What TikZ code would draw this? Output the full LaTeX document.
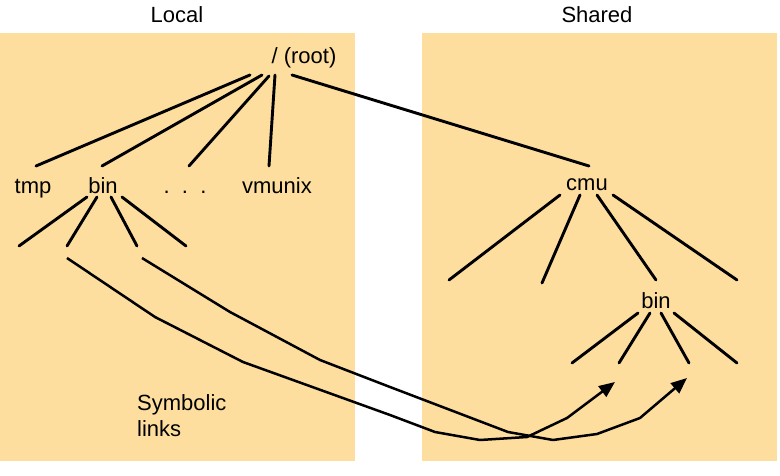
\documentclass[tikz,border=0pt]{standalone}
\usepackage{fontspec}
\setmainfont{Liberation Sans}
\usetikzlibrary{arrows.meta}
\definecolor{boxfill}{RGB}{253,222,158}
\tikzset{
  lbl/.style={anchor=base, inner sep=0pt, font=\fontsize{22}{26}\selectfont},
  tree/.style={line width=2.9pt, line cap=round},
  link/.style={line width=2.5pt, line join=round, -{Triangle[length=16pt,width=13pt]}},
  area/.style={fill=boxfill, draw=none}
}
\begin{document}
\begin{tikzpicture}[x=1pt,y=-1pt]
\useasboundingbox (0,0) rectangle (780,476);
\fill[white] (0,0) rectangle (780,476);
% areas
\path[area] (0,33) rectangle (355,461);
\path[area] (422,33) rectangle (777,461);
% titles
\node[lbl] (local) at (177,23) {Local};
\node[lbl] (shared) at (597,23) {Shared};
% nodes
\node[lbl] (root) at (304,64) {/ (root)};
\node[lbl] (tmp) at (33,194) {tmp};
\node[lbl] (lbin) at (103,194) {bin};
\node[lbl] (dots) at (185,194) {.\ \ .\ \ .};
\node[lbl] (vmunix) at (277,194) {vmunix};
\node[lbl] (cmu) at (587,191) {cmu};
\node[lbl] (sbin) at (656,308) {bin};
\node[lbl, anchor=base west] (sym) at (137,410) {Symbolic};
\node[lbl, anchor=base west] (links) at (137,436) {links};
% root edges
\coordinate (r1) at (250,75); \coordinate (t1) at (36,166);
\coordinate (r2) at (262,75); \coordinate (t2) at (102,166);
\coordinate (r3) at (269,76); \coordinate (t3) at (189,166);
\coordinate (r4) at (275,75); \coordinate (t4) at (269,166);
\coordinate (r5) at (292,75); \coordinate (t5) at (589,166);
\draw[tree] (r1) -- (t1);
\draw[tree] (r2) -- (t2);
\draw[tree] (r3) -- (t3);
\draw[tree] (r4) -- (t4);
\draw[tree] (r5) -- (t5);
% local bin children
\coordinate (lb1) at (87,197); \coordinate (lc1) at (19,246);
\coordinate (lb2) at (97,197); \coordinate (lc2) at (67,246);
\coordinate (lb3) at (111,197); \coordinate (lc3) at (137,246);
\coordinate (lb4) at (122,197); \coordinate (lc4) at (186,246);
\draw[tree] (lb1) -- (lc1);
\draw[tree] (lb2) -- (lc2);
\draw[tree] (lb3) -- (lc3);
\draw[tree] (lb4) -- (lc4);
% cmu children
\coordinate (cm1) at (560,195); \coordinate (cc1) at (449,280);
\coordinate (cm2) at (580,195); \coordinate (cc2) at (542,283);
\coordinate (cm3) at (597,195); \coordinate (cc3) at (656,280);
\coordinate (cm4) at (613,195); \coordinate (cc4) at (737,280);
\draw[tree] (cm1) -- (cc1);
\draw[tree] (cm2) -- (cc2);
\draw[tree] (cm3) -- (cc3);
\draw[tree] (cm4) -- (cc4);
% shared bin children
\coordinate (sb1) at (638,313); \coordinate (sc1) at (572,363);
\coordinate (sb2) at (650,313); \coordinate (sc2) at (619,363);
\coordinate (sb3) at (661,313); \coordinate (sc3) at (689,363);
\coordinate (sb4) at (674,313); \coordinate (sc4) at (737,363);
\draw[tree] (sb1) -- (sc1);
\draw[tree] (sb2) -- (sc2);
\draw[tree] (sb3) -- (sc3);
\draw[tree] (sb4) -- (sc4);
% symbolic links
\coordinate (s1) at (67,258); \coordinate (e1) at (615,382);
\coordinate (s2) at (142,258); \coordinate (e2) at (687,378);
\draw[link] (s1) -- (155,317) -- (243,362) -- (390,415) -- (435,432) -- (480,440) -- (527,437) -- (567,418) -- (e1);
\draw[link] (s2) -- (230,312) -- (320,360) -- (390,387) -- (508,432) -- (553,440) -- (597,434) -- (640,418) -- (e2);
\end{tikzpicture}
\end{document}
